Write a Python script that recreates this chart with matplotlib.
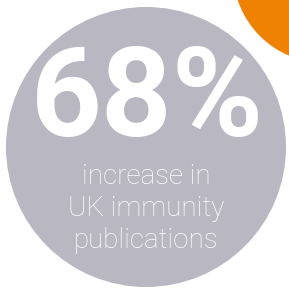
import matplotlib
matplotlib.use("Agg")
import matplotlib.pyplot as plt
from matplotlib.patches import Circle

# texte
valor = "68%"
legenda = ["increase in", "UK immunity", "publications"]

# circulos (centro x, centro y, raio) em pixels
circulo_cinza = (146, 147, 140)
circulo_laranja = (325, -29, 92)
cor_cinza = "#b8b7c2"
cor_laranja = "#ef8200"

fig = plt.figure(figsize=(2.89, 2.88), dpi=100)
ax = fig.add_axes([0, 0, 1, 1])
ax.set_xlim(0, 289)
ax.set_ylim(288, 0)
ax.set_aspect("equal")
ax.axis("off")

ax.add_patch(Circle(circulo_laranja[:2], circulo_laranja[2], color=cor_laranja, lw=0))
ax.add_patch(Circle(circulo_cinza[:2], circulo_cinza[2], color=cor_cinza, lw=0))

ax.text(147, 136, valor, color="white", fontsize=89, fontweight="bold",
        family="Roboto", ha="center", va="baseline")

for i, linha in enumerate(legenda):
    ax.text(146, 184 + i * 32, linha, color="white", fontsize=20,
            fontweight="light", family="Roboto", ha="center", va="baseline")

fig.savefig("out.png", dpi=100)
